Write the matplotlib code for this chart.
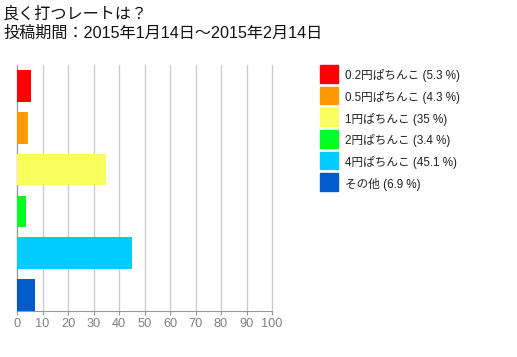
import numpy as np
import matplotlib
matplotlib.use("Agg")
import matplotlib.pyplot as plt
from matplotlib.patches import Rectangle

plt.rcParams['font.family'] = ['Liberation Sans', 'Noto Sans CJK JP', 'DejaVu Sans']

title = "良く打つレートは？\n投稿期間：2015年1月14日～2015年2月14日"
labels = ["0.2円ぱちんこ", "0.5円ぱちんこ", "1円ぱちんこ", "2円ぱちんこ", "4円ぱちんこ", "その他"]
values = [5.3, 4.3, 35, 3.4, 45.1, 6.9]
colors = ["#ff0000", "#ff9900", "#f9ff5c", "#00ff22", "#00ccff", "#005ccc"]
xticks = list(range(0, 101, 10))

W, H = 517, 357
fig = plt.figure(figsize=(W / 100, H / 100), dpi=100)

# plot area in pixels: x 17..272, y 65..311
ax = fig.add_axes([17 / W, (H - 311) / H, (272 - 17) / W, (311 - 65) / H])

h = 0.76
ypos = np.arange(len(values))
ax.barh(ypos, values, height=h, color=colors, zorder=3)
ax.set_xlim(0, 100)
ax.set_ylim(len(values) - 1 + h / 2, -h / 2 - 0.12)

ax.set_xticks(xticks)
ax.set_yticks([])
ax.grid(axis='x', color='#cccccc', linewidth=1, zorder=0)
for gl in ax.get_xgridlines():
    gl.set_clip_on(False)
for s in ['top', 'right']:
    ax.spines[s].set_visible(False)
ax.spines['left'].set_color('#999999')
ax.spines['bottom'].set_color('#999999')
ax.tick_params(axis='x', colors='#999999', labelcolor='#808080', labelsize=9.2,
               length=3, pad=2)

# title
fig.text(3 / W, 1 - 6 / H, title, ha='left', va='top', fontsize=11.6,
         linespacing=1.4, color='#111111')

# legend drawn by hand
sq = 17.5
step = 21.7
for i, (lab, val, c) in enumerate(zip(labels, values, colors)):
    top = 65 + i * step
    fig.add_artist(Rectangle((320 / W, 1 - (top + sq) / H), sq / W, sq / H,
                             transform=fig.transFigure, color=c))
    fig.text(345 / W, 1 - (top + sq / 2 + 2) / H, f"{lab} ({val:g} %)",
             ha='left', va='center', fontsize=8.4, color='#222222')

fig.savefig("out.png", dpi=100)
